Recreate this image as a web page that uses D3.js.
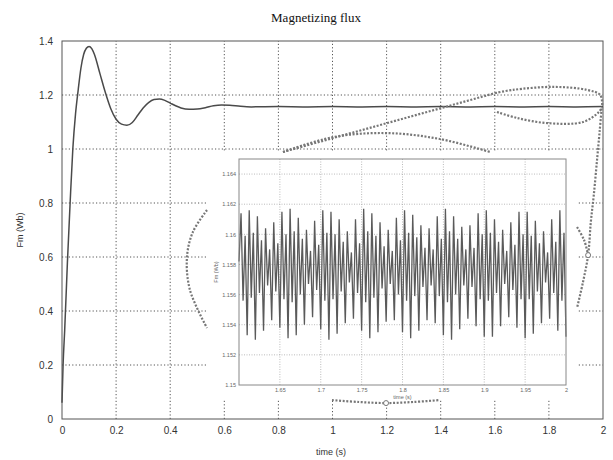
<!DOCTYPE html>
<html>
<head>
<meta charset="utf-8">
<script src="https://cdn.jsdelivr.net/npm/d3@7"></script>
<style>
  body { margin: 0; background: #fff; }
  svg { display: block; }
</style>
</head>
<body>
<svg id="chart"></svg>
<script>
// Main trace: magnetizing flux (Wb) against time (s)
const mainTime = [0, 0.004, 0.01, 0.02, 0.03, 0.04, 0.05, 0.06, 0.07, 0.08, 0.09, 0.1, 0.11, 0.12, 0.14, 0.16, 0.18, 0.2, 0.22, 0.24, 0.26, 0.28, 0.3, 0.32, 0.34, 0.36, 0.38, 0.4, 0.42, 0.44, 0.47, 0.5, 0.53, 0.56, 0.59, 0.62, 0.66, 0.7, 0.8, 0.9, 1.0, 1.1, 1.2, 1.3, 1.4, 1.5, 1.6, 1.7, 1.8, 1.9, 2.0];
const mainFlux = [0.06, 0.2, 0.33, 0.58, 0.8, 1.0, 1.13, 1.22, 1.3, 1.35, 1.373, 1.38, 1.372, 1.35, 1.28, 1.21, 1.15, 1.11, 1.092, 1.088, 1.098, 1.125, 1.152, 1.172, 1.183, 1.185, 1.18, 1.17, 1.16, 1.152, 1.147, 1.148, 1.153, 1.16, 1.163, 1.162, 1.158, 1.156, 1.157, 1.156, 1.157, 1.156, 1.157, 1.156, 1.157, 1.156, 1.157, 1.156, 1.157, 1.156, 1.157];

// Zoomed inset: 1.6 s to 2 s, one sample every 2.5 ms
const insetStart = 1.6;
const insetStep = 0.0025;
const insetFlux = [
  1.1582, 1.1614, 1.1556, 1.1599, 1.1533, 1.1616, 1.1558, 1.1601,
  1.1530, 1.1612, 1.1561, 1.1596, 1.1536, 1.1604, 1.1566, 1.1590,
  1.1543, 1.1608, 1.1562, 1.1594, 1.1538, 1.1615, 1.1557, 1.1600,
  1.1531, 1.1617, 1.1555, 1.1602, 1.1533, 1.1611, 1.1560, 1.1597,
  1.1540, 1.1603, 1.1567, 1.1589, 1.1545, 1.1609, 1.1563, 1.1593,
  1.1537, 1.1616, 1.1556, 1.1601, 1.1530, 1.1615, 1.1557, 1.1600,
  1.1534, 1.1610, 1.1562, 1.1595, 1.1541, 1.1602, 1.1568, 1.1588,
  1.1544, 1.1610, 1.1561, 1.1594, 1.1536, 1.1617, 1.1555, 1.1602,
  1.1531, 1.1614, 1.1558, 1.1599, 1.1535, 1.1608, 1.1564, 1.1592,
  1.1542, 1.1603, 1.1567, 1.1589, 1.1543, 1.1611, 1.1560, 1.1596,
  1.1535, 1.1616, 1.1556, 1.1601, 1.1531, 1.1613, 1.1559, 1.1598,
  1.1536, 1.1606, 1.1565, 1.1591, 1.1543, 1.1604, 1.1566, 1.1590,
  1.1541, 1.1612, 1.1559, 1.1597, 1.1533, 1.1617, 1.1555, 1.1602,
  1.1530, 1.1612, 1.1560, 1.1597, 1.1537, 1.1605, 1.1566, 1.1590,
  1.1544, 1.1606, 1.1565, 1.1591, 1.1539, 1.1614, 1.1557, 1.1600,
  1.1532, 1.1616, 1.1556, 1.1601, 1.1532, 1.1610, 1.1561, 1.1595,
  1.1539, 1.1603, 1.1567, 1.1589, 1.1545, 1.1608, 1.1563, 1.1593,
  1.1538, 1.1615, 1.1557, 1.1600, 1.1531, 1.1615, 1.1557, 1.1599,
  1.1534, 1.1609, 1.1562, 1.1594, 1.1541, 1.1602, 1.1568, 1.1588,
  1.1544, 1.1610, 1.1561, 1.1595, 1.1536, 1.1616, 1.1556, 1.1601,
  1.1532
];

// Tick labels
const xTicks = [0, 0.2, 0.4, 0.6, 0.8, 1, 1.2, 1.4, 1.6, 1.8, 2];
const yTicks = [0, 0.2, 0.4, 0.6, 0.8, 1, 1.2, 1.4];
const insetXTicks = [1.65, 1.7, 1.75, 1.8, 1.85, 1.9, 1.95, 2];
const insetYTicks = [1.15, 1.152, 1.154, 1.156, 1.158, 1.16, 1.162, 1.164];

// Dotted zoom-callout strokes, in main-chart data units [time, flux]
const lensUpper = [[1.601, 1.207], [1.667, 1.219], [1.815, 1.230], [1.941, 1.219], [1.990, 1.2], [1.997, 1.163]];
const lensLower = [[1.608, 1.137], [1.682, 1.115], [1.793, 1.096], [1.926, 1.100], [1.985, 1.137], [1.997, 1.156]];
const leaderLine = [[0.817, 0.989], [1.601, 1.207]];
const leaderArc = [[0.817, 0.989], [1.002, 1.044], [1.201, 1.059], [1.397, 1.037], [1.582, 0.989]];
const rightCurve = [[1.995, 1.15], [1.988, 1.07], [1.978, 0.96], [1.966, 0.83], [1.955, 0.73], [1.945, 0.607], [1.926, 0.507], [1.904, 0.411]];
const rightBranch = [[1.904, 0.711], [1.930, 0.663], [1.945, 0.607]];
const leftArc = [[0.536, 0.774], [0.484, 0.693], [0.462, 0.6], [0.473, 0.478], [0.536, 0.337]];
const bottomArc = [[0.998, 0.070], [1.098, 0.063], [1.198, 0.059], [1.298, 0.063], [1.397, 0.070]];
const calloutDots = [[1.945, 0.607], [1.198, 0.059]];

const width = 613;
const height = 460;
const margin = { top: 41, right: 10, bottom: 41, left: 62 };

const svg = d3.select("#chart")
    .attr("width", width)
    .attr("height", height)
    .style("font-family", "'Liberation Sans', Arial, sans-serif");

const x = d3.scaleLinear().domain([0, 2]).range([margin.left, width - margin.right]);
const y = d3.scaleLinear().domain([0, 1.4]).range([height - margin.bottom, margin.top]);

// Grid
const gridColor = "#555";
svg.append("g")
    .selectAll("line")
    .data(xTicks.slice(1, -1))
    .join("line")
    .attr("x1", d => x(d)).attr("x2", d => x(d))
    .attr("y1", y(0)).attr("y2", y(1.4))
    .attr("stroke", gridColor)
    .attr("stroke-dasharray", "1.2,2.2");

svg.append("g")
    .selectAll("line")
    .data(yTicks.slice(1, -1))
    .join("line")
    .attr("x1", x(0)).attr("x2", x(2))
    .attr("y1", d => y(d)).attr("y2", d => y(d))
    .attr("stroke", gridColor)
    .attr("stroke-dasharray", "1.2,2.2");

// Main trace
const line = d3.line()
    .x((d, i) => x(mainTime[i]))
    .y(d => y(d))
    .curve(d3.curveMonotoneX);

svg.append("path")
    .datum(mainFlux)
    .attr("fill", "none")
    .attr("stroke", "#4a4a4a")
    .attr("stroke-width", 1.5)
    .attr("d", line);

// Frame and axes
svg.append("rect")
    .attr("x", x(0)).attr("y", y(1.4))
    .attr("width", x(2) - x(0)).attr("height", y(0) - y(1.4))
    .attr("fill", "none")
    .attr("stroke", "#555");

const xAxis = svg.append("g")
    .attr("transform", `translate(0,${y(0)})`)
    .call(d3.axisBottom(x).tickValues(xTicks).tickSize(0).tickPadding(8).tickFormat(d3.format("")));
const yAxis = svg.append("g")
    .attr("transform", `translate(${x(0)},0)`)
    .call(d3.axisLeft(y).tickValues(yTicks).tickSize(0).tickPadding(9).tickFormat(d3.format("")));
[xAxis, yAxis].forEach(g => {
    g.select(".domain").remove();
    g.selectAll("text").attr("font-size", 10).attr("fill", "#333")
        .style("font-family", "'Liberation Sans', Arial, sans-serif");
});

svg.append("text")
    .attr("x", 316).attr("y", 22)
    .attr("text-anchor", "middle")
    .attr("font-family", "'Liberation Serif', 'Times New Roman', serif")
    .attr("font-size", 13)
    .attr("fill", "#111")
    .text("Magnetizing flux");

svg.append("text")
    .attr("x", 331).attr("y", 455)
    .attr("text-anchor", "middle")
    .attr("font-size", 9)
    .attr("fill", "#333")
    .text("time (s)");

svg.append("text")
    .attr("transform", `translate(23,${(y(0) + y(1.4)) / 2}) rotate(-90)`)
    .attr("text-anchor", "middle")
    .attr("font-size", 9)
    .attr("fill", "#333")
    .text("Fm (Wb)");

// Inset figure (white card hides the main grid behind it)
svg.append("rect")
    .attr("x", 207).attr("y", 151)
    .attr("width", 370).attr("height", 249)
    .attr("fill", "#fff");

const inset = { left: 239, top: 159, right: 566, bottom: 385 };
const ix = d3.scaleLinear().domain([1.6, 2]).range([inset.left, inset.right]);
const iy = d3.scaleLinear().domain([1.15, 1.165]).range([inset.bottom, inset.top]);

const ig = svg.append("g");
ig.append("g")
    .selectAll("line")
    .data(insetXTicks.slice(0, -1))
    .join("line")
    .attr("x1", d => ix(d)).attr("x2", d => ix(d))
    .attr("y1", inset.bottom).attr("y2", inset.top)
    .attr("stroke", "#aaa")
    .attr("stroke-width", 0.8)
    .attr("stroke-dasharray", "1,1.5");
ig.append("g")
    .selectAll("line")
    .data(insetYTicks.slice(1))
    .join("line")
    .attr("x1", inset.left).attr("x2", inset.right)
    .attr("y1", d => iy(d)).attr("y2", d => iy(d))
    .attr("stroke", "#aaa")
    .attr("stroke-width", 0.8)
    .attr("stroke-dasharray", "1,1.5");

const insetLine = d3.line()
    .x((d, i) => ix(insetStart + i * insetStep))
    .y(d => iy(d));

ig.append("path")
    .datum(insetFlux)
    .attr("fill", "none")
    .attr("stroke", "#5a5a5a")
    .attr("stroke-width", 1.3)
    .attr("d", insetLine);

ig.append("rect")
    .attr("x", inset.left).attr("y", inset.top)
    .attr("width", inset.right - inset.left).attr("height", inset.bottom - inset.top)
    .attr("fill", "none")
    .attr("stroke", "#888");

ig.append("g")
    .attr("transform", `translate(0,${inset.bottom})`)
    .call(d3.axisBottom(ix).tickValues(insetXTicks).tickSize(0).tickPadding(3).tickFormat(d3.format("")))
    .call(g => g.select(".domain").remove())
    .selectAll("text").attr("font-size", 5.5).attr("fill", "#666");

ig.append("g")
    .attr("transform", `translate(${inset.left},0)`)
    .call(d3.axisLeft(iy).tickValues(insetYTicks).tickSize(0).tickPadding(3).tickFormat(d3.format("")))
    .call(g => g.select(".domain").remove())
    .selectAll("text").attr("font-size", 5.5).attr("fill", "#666");

ig.append("text")
    .attr("x", (inset.left + inset.right) / 2).attr("y", 399)
    .attr("text-anchor", "middle")
    .attr("font-size", 5.5)
    .attr("fill", "#666")
    .text("time (s)");

ig.append("text")
    .attr("transform", `translate(218,${(inset.top + inset.bottom) / 2}) rotate(-90)`)
    .attr("text-anchor", "middle")
    .attr("font-size", 5.5)
    .attr("fill", "#666")
    .text("Fm (Wb)");

// Dotted callout strokes
const callout = d3.line()
    .x(d => x(d[0]))
    .y(d => y(d[1]))
    .curve(d3.curveCatmullRom);

svg.append("g")
    .selectAll("path")
    .data([lensUpper, lensLower, leaderLine, leaderArc, rightCurve, rightBranch, leftArc, bottomArc])
    .join("path")
    .attr("fill", "none")
    .attr("stroke", "#777")
    .attr("stroke-width", 2.2)
    .attr("stroke-dasharray", "2,1.6")
    .attr("d", callout);

svg.append("g")
    .selectAll("circle")
    .data(calloutDots)
    .join("circle")
    .attr("cx", d => x(d[0]))
    .attr("cy", d => y(d[1]))
    .attr("r", 2.5)
    .attr("fill", "#fff")
    .attr("stroke", "#777");
</script>
</body>
</html>
